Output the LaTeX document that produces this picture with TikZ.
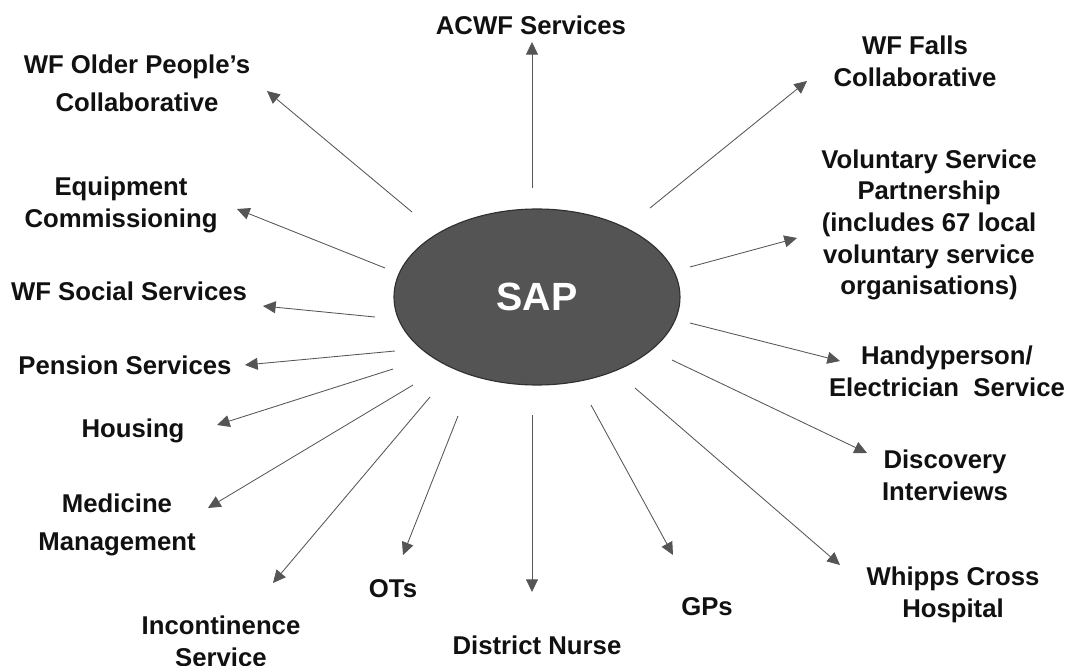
\documentclass[tikz,border=0pt]{standalone}
\usepackage{fontspec}
\setmainfont{Liberation Sans}
\usetikzlibrary{arrows.meta,shapes.geometric}
\definecolor{Ink}{HTML}{111111}
\definecolor{Wire}{HTML}{555555}
\definecolor{Hub}{HTML}{545454}
\definecolor{HubEdge}{HTML}{303030}
\tikzset{
  hub/.style={ellipse,draw=HubEdge,fill=Hub,line width=0.8pt,minimum width=7.15cm,minimum height=4.4cm,inner sep=0pt,font=\fontsize{28}{34}\selectfont\bfseries,text=white},
  lbl/.style={align=center,font=\fontsize{18.3}{22.5}\selectfont\bfseries,text=Ink,inner sep=0pt},
  lblwide/.style={lbl,font=\fontsize{18.3}{27}\selectfont\bfseries},
  arr/.style={-{Triangle[length=9pt,width=8.5pt]},draw=Wire,line width=0.6pt}
}

\begin{document}
\begin{tikzpicture}
  \fill[white] (-13.425,-9.225) rectangle (13.35,7.425);
  \useasboundingbox (-13.425,-9.225) rectangle (13.35,7.425);

  \node[hub] (sap) at (0,0) {SAP};

  % partners round the hub
  \node[lbl] (acwf) at (-0.15,6.8) {ACWF Services};
  \node[lblwide] (older) at (-10.0,5.35) {WF Older People’s\\Collaborative};
  \node[lbl] (falls) at (9.45,5.9) {WF Falls\\Collaborative};
  \node[lbl] (vol) at (9.8,1.8) {Voluntary Service\\Partnership\\(includes 67 local\\voluntary service\\organisations)};
  \node[lbl] (handy) at (10.25,-1.85) {Handyperson/\\Electrician\ \ Service};
  \node[lbl] (disc) at (10.2,-4.45) {Discovery\\Interviews};
  \node[lbl] (whipps) at (10.4,-7.45) {Whipps Cross\\Hospital};
  \node[lbl] (gps) at (4.25,-7.75) {GPs};
  \node[lbl] (nurse) at (0,-8.7) {District Nurse};
  \node[lbl] (ots) at (-3.6,-7.3) {OTs};
  \node[lbl] (incont) at (-7.9,-8.6) {Incontinence\\Service};
  \node[lblwide] (medicine) at (-10.5,-5.7) {Medicine\\Management};
  \node[lbl] (housing) at (-10.1,-3.35) {Housing};
  \node[lbl] (pension) at (-10.3,-1.7) {Pension Services};
  \node[lbl] (social) at (-10.2,0.15) {WF Social Services};
  \node[lbl] (equip) at (-10.4,2.3) {Equipment\\Commissioning};

  % arrow ends (s = tail by the hub, t = tip by the label)
  \coordinate (acwf-s) at (-0.125,2.725);    \coordinate (acwf-t) at (-0.125,6.375);
  \coordinate (older-s) at (-3.125,2.125);   \coordinate (older-t) at (-6.75,5.15);
  \coordinate (falls-s) at (2.825,2.225);    \coordinate (falls-t) at (6.75,5.4);
  \coordinate (vol-s) at (3.825,0.75);       \coordinate (vol-t) at (6.5,1.475);
  \coordinate (handy-s) at (3.825,-0.65);    \coordinate (handy-t) at (7.575,-1.6);
  \coordinate (disc-s) at (3.375,-1.575);    \coordinate (disc-t) at (8.25,-3.9);
  \coordinate (whipps-s) at (2.45,-2.275);   \coordinate (whipps-t) at (7.575,-6.7);
  \coordinate (gps-s) at (1.35,-2.7);        \coordinate (gps-t) at (3.4,-6.45);
  \coordinate (nurse-s) at (-0.125,-2.95);   \coordinate (nurse-t) at (-0.125,-7.375);
  \coordinate (ots-s) at (-1.975,-2.975);    \coordinate (ots-t) at (-3.35,-6.45);
  \coordinate (incont-s) at (-2.675,-2.5);   \coordinate (incont-t) at (-6.6,-7.15);
  \coordinate (medicine-s) at (-3.1,-2.2);   \coordinate (medicine-t) at (-8.225,-5.275);
  \coordinate (housing-s) at (-3.6,-1.8);    \coordinate (housing-t) at (-8.0,-3.2);
  \coordinate (pension-s) at (-3.55,-1.35);  \coordinate (pension-t) at (-7.3,-1.7);
  \coordinate (social-s) at (-4.05,-0.5);    \coordinate (social-t) at (-6.85,-0.225);
  \coordinate (equip-s) at (-3.8,0.725);     \coordinate (equip-t) at (-7.5,2.2);

  \foreach \p in {acwf,older,falls,vol,handy,disc,whipps,gps,nurse,ots,incont,medicine,housing,pension,social,equip}
    \draw[arr] (\p-s) -- (\p-t);
\end{tikzpicture}
\end{document}
